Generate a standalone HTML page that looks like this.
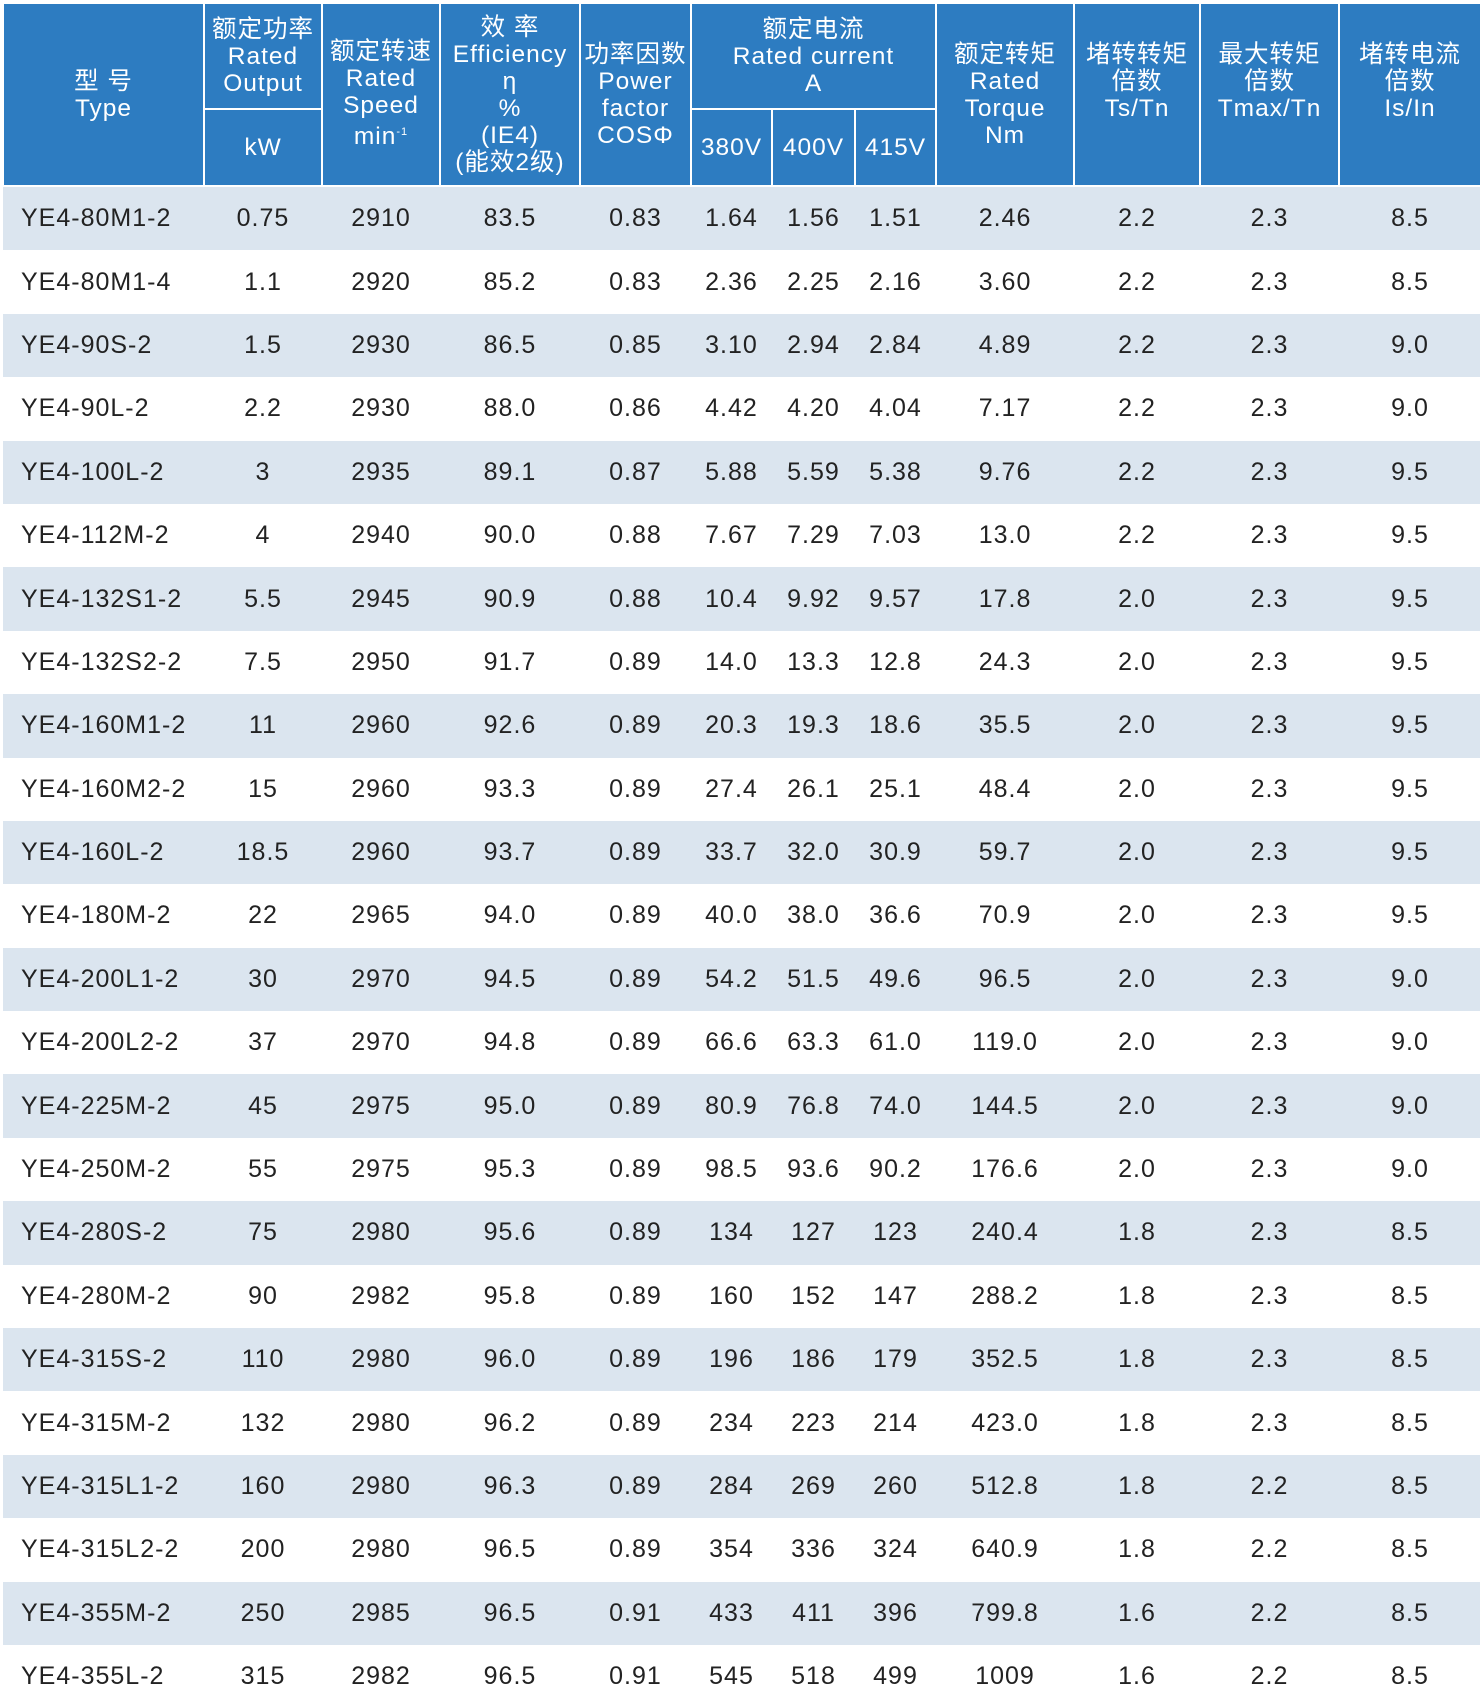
<!DOCTYPE html>
<html><head><meta charset="utf-8"><style>
body{margin:0;width:1480px;height:1700px;overflow:hidden;background:#fff;font-family:"Liberation Sans","Noto Sans CJK SC",sans-serif;}
table{position:absolute;left:2px;top:2px;border-collapse:collapse;table-layout:fixed;width:1478px;}
th{background:#2d7cc1;color:#fff;font-weight:normal;border:2px solid #fff;font-size:24.5px;line-height:27px;padding:0;text-align:center;letter-spacing:1px}
td{font-size:25px;color:#222;text-align:center;height:63.4px;padding:0;letter-spacing:1px}
tr.s td{background:#dbe5ef}
td.t{text-align:left;padding-left:18px}
sup{font-size:11px}
</style></head><body>
<table>
<colgroup><col style="width:201px"><col style="width:118px"><col style="width:118px"><col style="width:140px"><col style="width:111px"><col style="width:81px"><col style="width:83px"><col style="width:81px"><col style="width:138px"><col style="width:126px"><col style="width:139px"><col style="width:142px"></colgroup>
<tr style="height:106px"><th rowspan="2">型 号<br>Type</th><th>额定功率<br>Rated<br>Output</th><th rowspan="2">额定转速<br>Rated<br>Speed<br>min<sup>-1</sup></th><th rowspan="2">效 率<br>Efficiency<br>η<br>%<br>(IE4)<br>(能效2级)</th><th rowspan="2">功率因数<br>Power<br>factor<br>COSΦ</th><th colspan="3">额定电流<br>Rated current<br>A</th><th rowspan="2">额定转矩<br>Rated<br>Torque<br>Nm</th><th rowspan="2">堵转转矩<br>倍数<br>Ts/Tn<br>&nbsp;</th><th rowspan="2">最大转矩<br>倍数<br>Tmax/Tn<br>&nbsp;</th><th rowspan="2">堵转电流<br>倍数<br>Is/In<br>&nbsp;</th></tr>
<tr style="height:77px"><th>kW</th><th>380V</th><th>400V</th><th>415V</th></tr>
<tr class="s"><td class="t">YE4-80M1-2</td><td>0.75</td><td>2910</td><td>83.5</td><td>0.83</td><td>1.64</td><td>1.56</td><td>1.51</td><td>2.46</td><td>2.2</td><td>2.3</td><td>8.5</td></tr>
<tr><td class="t">YE4-80M1-4</td><td>1.1</td><td>2920</td><td>85.2</td><td>0.83</td><td>2.36</td><td>2.25</td><td>2.16</td><td>3.60</td><td>2.2</td><td>2.3</td><td>8.5</td></tr>
<tr class="s"><td class="t">YE4-90S-2</td><td>1.5</td><td>2930</td><td>86.5</td><td>0.85</td><td>3.10</td><td>2.94</td><td>2.84</td><td>4.89</td><td>2.2</td><td>2.3</td><td>9.0</td></tr>
<tr><td class="t">YE4-90L-2</td><td>2.2</td><td>2930</td><td>88.0</td><td>0.86</td><td>4.42</td><td>4.20</td><td>4.04</td><td>7.17</td><td>2.2</td><td>2.3</td><td>9.0</td></tr>
<tr class="s"><td class="t">YE4-100L-2</td><td>3</td><td>2935</td><td>89.1</td><td>0.87</td><td>5.88</td><td>5.59</td><td>5.38</td><td>9.76</td><td>2.2</td><td>2.3</td><td>9.5</td></tr>
<tr><td class="t">YE4-112M-2</td><td>4</td><td>2940</td><td>90.0</td><td>0.88</td><td>7.67</td><td>7.29</td><td>7.03</td><td>13.0</td><td>2.2</td><td>2.3</td><td>9.5</td></tr>
<tr class="s"><td class="t">YE4-132S1-2</td><td>5.5</td><td>2945</td><td>90.9</td><td>0.88</td><td>10.4</td><td>9.92</td><td>9.57</td><td>17.8</td><td>2.0</td><td>2.3</td><td>9.5</td></tr>
<tr><td class="t">YE4-132S2-2</td><td>7.5</td><td>2950</td><td>91.7</td><td>0.89</td><td>14.0</td><td>13.3</td><td>12.8</td><td>24.3</td><td>2.0</td><td>2.3</td><td>9.5</td></tr>
<tr class="s"><td class="t">YE4-160M1-2</td><td>11</td><td>2960</td><td>92.6</td><td>0.89</td><td>20.3</td><td>19.3</td><td>18.6</td><td>35.5</td><td>2.0</td><td>2.3</td><td>9.5</td></tr>
<tr><td class="t">YE4-160M2-2</td><td>15</td><td>2960</td><td>93.3</td><td>0.89</td><td>27.4</td><td>26.1</td><td>25.1</td><td>48.4</td><td>2.0</td><td>2.3</td><td>9.5</td></tr>
<tr class="s"><td class="t">YE4-160L-2</td><td>18.5</td><td>2960</td><td>93.7</td><td>0.89</td><td>33.7</td><td>32.0</td><td>30.9</td><td>59.7</td><td>2.0</td><td>2.3</td><td>9.5</td></tr>
<tr><td class="t">YE4-180M-2</td><td>22</td><td>2965</td><td>94.0</td><td>0.89</td><td>40.0</td><td>38.0</td><td>36.6</td><td>70.9</td><td>2.0</td><td>2.3</td><td>9.5</td></tr>
<tr class="s"><td class="t">YE4-200L1-2</td><td>30</td><td>2970</td><td>94.5</td><td>0.89</td><td>54.2</td><td>51.5</td><td>49.6</td><td>96.5</td><td>2.0</td><td>2.3</td><td>9.0</td></tr>
<tr><td class="t">YE4-200L2-2</td><td>37</td><td>2970</td><td>94.8</td><td>0.89</td><td>66.6</td><td>63.3</td><td>61.0</td><td>119.0</td><td>2.0</td><td>2.3</td><td>9.0</td></tr>
<tr class="s"><td class="t">YE4-225M-2</td><td>45</td><td>2975</td><td>95.0</td><td>0.89</td><td>80.9</td><td>76.8</td><td>74.0</td><td>144.5</td><td>2.0</td><td>2.3</td><td>9.0</td></tr>
<tr><td class="t">YE4-250M-2</td><td>55</td><td>2975</td><td>95.3</td><td>0.89</td><td>98.5</td><td>93.6</td><td>90.2</td><td>176.6</td><td>2.0</td><td>2.3</td><td>9.0</td></tr>
<tr class="s"><td class="t">YE4-280S-2</td><td>75</td><td>2980</td><td>95.6</td><td>0.89</td><td>134</td><td>127</td><td>123</td><td>240.4</td><td>1.8</td><td>2.3</td><td>8.5</td></tr>
<tr><td class="t">YE4-280M-2</td><td>90</td><td>2982</td><td>95.8</td><td>0.89</td><td>160</td><td>152</td><td>147</td><td>288.2</td><td>1.8</td><td>2.3</td><td>8.5</td></tr>
<tr class="s"><td class="t">YE4-315S-2</td><td>110</td><td>2980</td><td>96.0</td><td>0.89</td><td>196</td><td>186</td><td>179</td><td>352.5</td><td>1.8</td><td>2.3</td><td>8.5</td></tr>
<tr><td class="t">YE4-315M-2</td><td>132</td><td>2980</td><td>96.2</td><td>0.89</td><td>234</td><td>223</td><td>214</td><td>423.0</td><td>1.8</td><td>2.3</td><td>8.5</td></tr>
<tr class="s"><td class="t">YE4-315L1-2</td><td>160</td><td>2980</td><td>96.3</td><td>0.89</td><td>284</td><td>269</td><td>260</td><td>512.8</td><td>1.8</td><td>2.2</td><td>8.5</td></tr>
<tr><td class="t">YE4-315L2-2</td><td>200</td><td>2980</td><td>96.5</td><td>0.89</td><td>354</td><td>336</td><td>324</td><td>640.9</td><td>1.8</td><td>2.2</td><td>8.5</td></tr>
<tr class="s"><td class="t">YE4-355M-2</td><td>250</td><td>2985</td><td>96.5</td><td>0.91</td><td>433</td><td>411</td><td>396</td><td>799.8</td><td>1.6</td><td>2.2</td><td>8.5</td></tr>
<tr><td class="t">YE4-355L-2</td><td>315</td><td>2982</td><td>96.5</td><td>0.91</td><td>545</td><td>518</td><td>499</td><td>1009</td><td>1.6</td><td>2.2</td><td>8.5</td></tr>
</table>
</body></html>
